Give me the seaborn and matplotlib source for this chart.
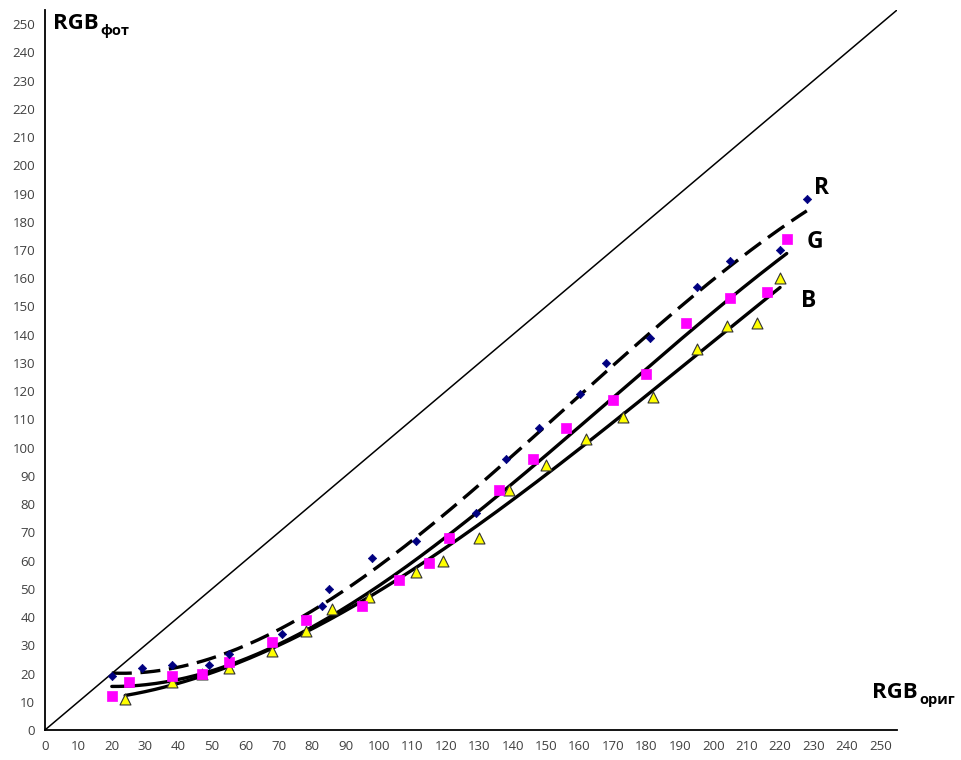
import numpy as np
import pandas as pd
import matplotlib
matplotlib.use("Agg")
import matplotlib.pyplot as plt
import seaborn as sns

# Measured channel values: original (x) vs. photographed (y)
r_orig = [20, 29, 38, 49, 55, 71, 83, 85, 98, 111, 129, 138, 148, 160, 168, 181, 195, 205, 220, 228]
r_phot = [19, 22, 23, 23, 27, 34, 44, 50, 61, 67, 77, 96, 107, 119, 130, 139, 157, 166, 170, 188]

g_orig = [20, 25, 38, 47, 55, 68, 78, 95, 106, 115, 121, 136, 146, 156, 170, 180, 192, 205, 216, 222]
g_phot = [12, 17, 19, 20, 24, 31, 39, 44, 53, 59, 68, 85, 96, 107, 117, 126, 144, 153, 155, 174]

b_orig = [24, 38, 47, 55, 68, 78, 86, 97, 111, 119, 130, 139, 150, 162, 173, 182, 195, 204, 213, 220]
b_phot = [11, 17, 20, 22, 28, 35, 43, 47, 56, 60, 68, 85, 94, 103, 111, 118, 135, 143, 144, 160]

channels = ["R", "G", "B"]
ticks = list(range(0, 251, 10))

sns.set_theme(style="white")
plt.rcParams["font.family"] = ["Open Sans", "DejaVu Sans"]

points = pd.concat([
    pd.DataFrame({"orig": r_orig, "phot": r_phot, "channel": "R"}),
    pd.DataFrame({"orig": g_orig, "phot": g_phot, "channel": "G"}),
    pd.DataFrame({"orig": b_orig, "phot": b_phot, "channel": "B"}),
], ignore_index=True)

# Third-order polynomial trend for each channel over its measured range
trend_parts = []
for ch in channels:
    sub = points[points["channel"] == ch]
    coef = np.polyfit(sub["orig"], sub["phot"], 3)
    xs = np.linspace(sub["orig"].min(), sub["orig"].max(), 200)
    trend_parts.append(pd.DataFrame({"orig": xs, "phot": np.polyval(coef, xs), "channel": ch}))
trend = pd.concat(trend_parts, ignore_index=True)

fig = plt.figure(figsize=(9.61, 7.6), dpi=100)
ax = fig.add_axes([0.0468, 0.0395, 0.8866, 0.9473])

# identity line
ident = pd.DataFrame({"orig": [0, 255], "phot": [0, 255]})
sns.lineplot(data=ident, x="orig", y="phot", ax=ax, color="black", linewidth=1.1, zorder=2)

sns.lineplot(data=trend, x="orig", y="phot", style="channel", style_order=channels,
             dashes={"R": (6, 2.6), "G": "", "B": ""}, color="black",
             linewidth=2.4, ax=ax, legend=False, zorder=3, sort=False)

marker_style = {
    "R": dict(marker="D", color="#000080", s=18, edgecolor="#000080", linewidth=0.5),
    "G": dict(marker="s", color="#FF00FF", s=60, edgecolor="#FF00FF", linewidth=0.5),
    "B": dict(marker="^", color="#FFFF00", s=62, edgecolor="#333333", linewidth=0.8),
}
for ch in ["B", "G", "R"]:
    sub = points[points["channel"] == ch]
    sns.scatterplot(data=sub, x="orig", y="phot", ax=ax, legend=False, zorder=4,
                    **marker_style[ch])

ax.set_xlim(0, 255)
ax.set_ylim(0, 255)
ax.set_xticks(ticks)
ax.set_yticks(ticks)
ax.set_xlabel("")
ax.set_ylabel("")
for side in ["top", "right"]:
    ax.spines[side].set_visible(False)
for side in ["left", "bottom"]:
    ax.spines[side].set_color("black")
    ax.spines[side].set_linewidth(1.3)
ax.tick_params(axis="both", direction="out", length=4, width=1.2, color="black",
               labelsize=9.5, labelcolor="#404040", pad=3)

# channel labels beside the trend ends
label_pos = {"R": (232.5, 192), "G": (230.5, 173), "B": (228.5, 152)}
for ch in channels:
    ax.text(*label_pos[ch], ch, fontsize=16.5, fontweight="bold", color="black",
            ha="center", va="center")

# axis titles with Cyrillic subscripts
t_y = fig.text(53 / 961, 1 - 29 / 760, "RGB", fontsize=16, fontweight="bold",
               color="black", ha="left", va="baseline")
ax.annotate("фот", xy=(1, 0), xycoords=t_y, xytext=(1, -3), textcoords="offset points",
            fontsize=10.5, fontweight="bold", color="black", ha="left", va="bottom",
            annotation_clip=False)
t_x = fig.text(872 / 961, 1 - 698 / 760, "RGB", fontsize=16, fontweight="bold",
               color="black", ha="left", va="baseline")
ax.annotate("ориг", xy=(1, 0), xycoords=t_x, xytext=(1, -3), textcoords="offset points",
            fontsize=10.5, fontweight="bold", color="black", ha="left", va="bottom",
            annotation_clip=False)

fig.savefig("out.png", dpi=100)
